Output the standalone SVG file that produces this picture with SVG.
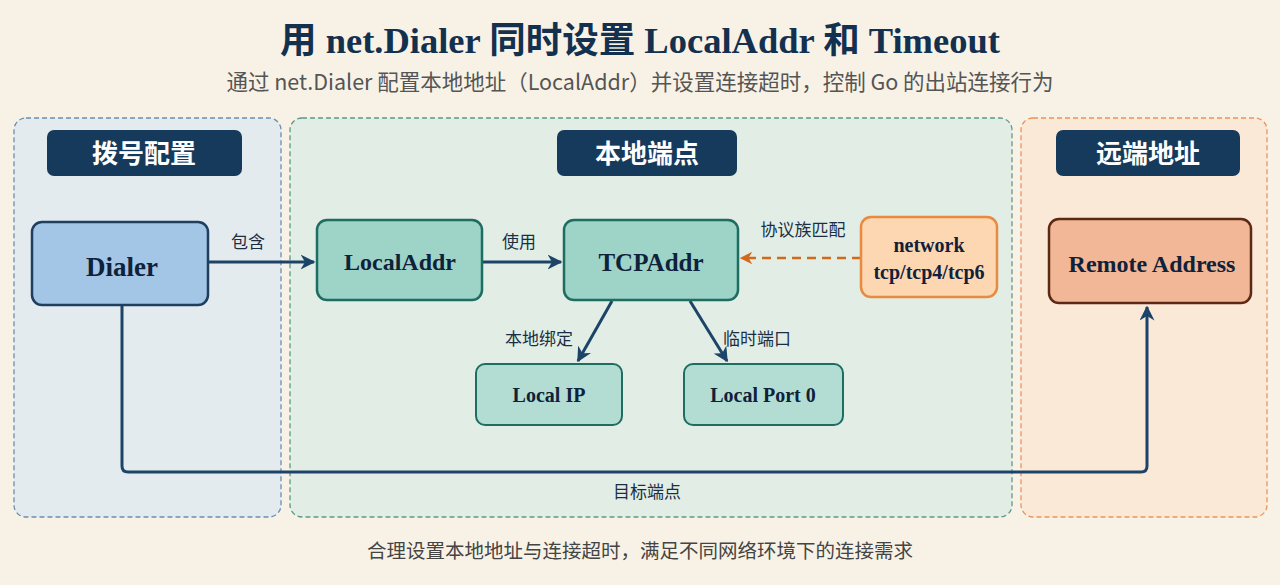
<svg xmlns="http://www.w3.org/2000/svg" width="1280" height="585" viewBox="0 0 1280 585">
<defs>
<marker id="ah" viewBox="0 0 10 10" refX="9" refY="5" markerWidth="5" markerHeight="5" orient="auto"><path d="M0,0 L10,5 L0,10 L3,5 Z" fill="#1c4468"/></marker>
<marker id="ao" viewBox="0 0 10 10" refX="9" refY="5" markerWidth="5" markerHeight="5" orient="auto"><path d="M0,0 L10,5 L0,10 L3,5 Z" fill="#d2691e"/></marker>
<style>
.zone{stroke-width:1.3;stroke-dasharray:5 3}
.hdr{fill:#163a5c}
.ht{font-family:"Noto Sans CJK SC",sans-serif;font-weight:bold;font-size:26px;fill:#fff;text-anchor:middle}
.nt{font-family:"Liberation Serif","Noto Sans CJK SC",serif;font-weight:bold;fill:#10213a;text-anchor:middle}
.lb{font-family:"Noto Sans CJK SC",sans-serif;font-size:17px;fill:#1c2e44;text-anchor:middle}
.ln{fill:none;stroke:#1c4468;stroke-width:3}
</style>
</defs>
<rect width="1280" height="585" fill="#f8f2e6"/>
<text x="640" y="53" text-anchor="middle" font-family="Liberation Serif,'Noto Sans CJK SC',serif" font-weight="bold" font-size="36.5" fill="#14304f">用 net.Dialer 同时设置 LocalAddr 和 Timeout</text>
<text x="640" y="90" text-anchor="middle" font-family="'Noto Sans CJK SC',sans-serif" font-size="21.5" fill="#555">通过 net.Dialer 配置本地地址（LocalAddr）并设置连接超时，控制 Go 的出站连接行为</text>
<g id="zone-dial"><rect class="zone" x="14" y="118" width="267" height="399" rx="12" fill="#e4ebef" stroke="#6a8fb0"/><rect class="hdr" x="47" y="130" width="195" height="46" rx="7"/><text class="ht" x="144" y="163">拨号配置</text></g>
<g id="zone-local"><rect class="zone" x="290" y="118" width="722" height="399" rx="12" fill="#e2eee5" stroke="#5a9a8a"/><rect class="hdr" x="557" y="130" width="180" height="46" rx="7"/><text class="ht" x="647" y="163">本地端点</text></g>
<g id="zone-remote"><rect class="zone" x="1021" y="118" width="246" height="399" rx="12" fill="#fbe9d8" stroke="#e8955a"/><rect class="hdr" x="1056" y="130" width="184" height="46" rx="7"/><text class="ht" x="1148" y="163">远端地址</text></g>
<g id="connectors">
<path class="ln" d="M208,262 H314" marker-end="url(#ah)"/>
<text class="lb" x="248" y="248">包含</text>
<path class="ln" d="M482,262 H561" stroke-width="2.5" marker-end="url(#ah)"/>
<text class="lb" x="519" y="248">使用</text>
<path d="M861,258 H741" fill="none" stroke="#d2691e" stroke-width="2.5" stroke-dasharray="9 6" marker-end="url(#ao)"/>
<text class="lb" x="803" y="236">协议族匹配</text>
<path class="ln" d="M612,301 L578,361" stroke-width="2.5" marker-end="url(#ah)"/>
<text class="lb" x="539" y="345">本地绑定</text>
<path class="ln" d="M690,301 L727,361" stroke-width="2.5" marker-end="url(#ah)"/>
<text class="lb" x="757" y="345">临时端口</text>
<path class="ln" d="M122,305 V466 Q122,472 128,472 H1141 Q1147,472 1147,466 V307" marker-end="url(#ah)"/>
<text class="lb" x="647" y="498">目标端点</text>
</g>
<g id="dialer"><rect x="32" y="222" width="176" height="83" rx="10" fill="#a3c5e6" stroke="#1e3f60" stroke-width="2.5"/><text class="nt" x="122" y="276" font-size="27">Dialer</text></g>
<g id="localaddr"><rect x="317" y="220" width="165" height="80" rx="10" fill="#9ed4c8" stroke="#1e6d60" stroke-width="2.5"/><text class="nt" x="400" y="270" font-size="24">LocalAddr</text></g>
<g id="tcpaddr"><rect x="564" y="220" width="174" height="80" rx="10" fill="#9ed4c8" stroke="#1e6d60" stroke-width="2.5"/><text class="nt" x="651" y="271" font-size="25">TCPAddr</text></g>
<g id="network"><rect x="861" y="217" width="136" height="80" rx="10" fill="#fdd6b2" stroke="#e88a3f" stroke-width="2.5"/><text class="nt" x="929" y="252" font-size="20">network</text><text class="nt" x="929" y="279" font-size="20">tcp/tcp4/tcp6</text></g>
<g id="remote"><rect x="1049" y="219" width="202" height="84" rx="10" fill="#f2b796" stroke="#5c2a14" stroke-width="2.5"/><text class="nt" x="1152" y="272" font-size="24">Remote Address</text></g>
<g id="localip"><rect x="476" y="364" width="146" height="61" rx="9" fill="#b3ddd3" stroke="#1e6d60" stroke-width="2"/><text class="nt" x="549" y="402" font-size="20">Local IP</text></g>
<g id="localport"><rect x="684" y="364" width="159" height="61" rx="9" fill="#b3ddd3" stroke="#1e6d60" stroke-width="2"/><text class="nt" x="763" y="402" font-size="20">Local Port 0</text></g>
<text x="640" y="558" text-anchor="middle" font-family="'Noto Sans CJK SC',sans-serif" font-size="19.5" fill="#444">合理设置本地地址与连接超时，满足不同网络环境下的连接需求</text>
</svg>
